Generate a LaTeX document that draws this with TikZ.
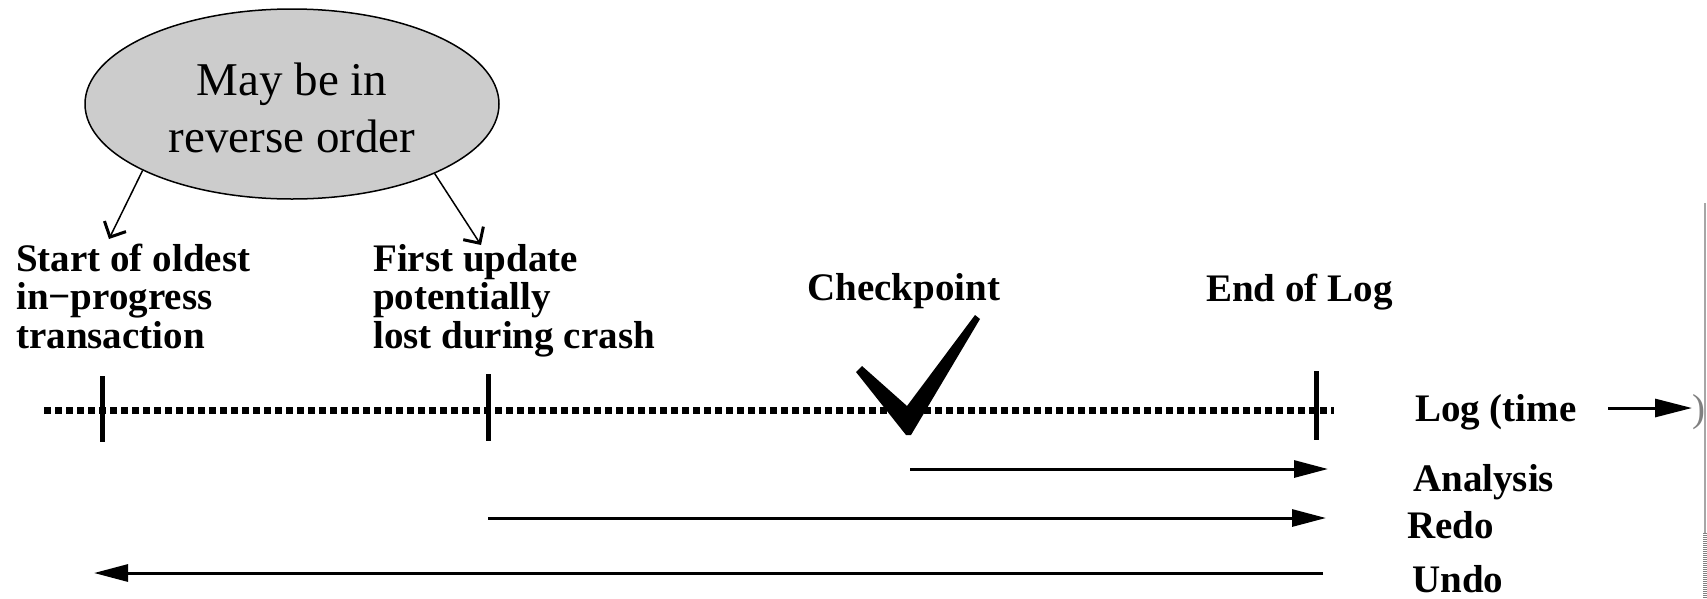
\documentclass[tikz,border=0pt]{standalone}
\usepackage{fontspec}
\setmainfont{Liberation Serif}
\usetikzlibrary{shapes.geometric,arrows.meta}
\tikzset{
  lbl/.style={font=\fontsize{39}{38.5}\selectfont\bfseries, inner sep=0pt, align=left},
  tickmark/.style={line width=5pt},
  logline/.style={line width=7pt, dash pattern=on 7pt off 4pt},
  pass/.style={line width=3pt, -{Triangle[length=34pt,width=17pt]}},
  ptr/.style={line width=1.5pt, -{Straight Barb[length=12pt,width=24pt,line width=3pt]}},
}
\begin{document}
\begin{tikzpicture}[x=1pt,y=-1pt]
\useasboundingbox (0,0) rectangle (1707,598);
% ellipse
\node[ellipse, draw, line width=1.5pt, fill={rgb,255:red,204;green,204;blue,204},
      minimum width=414pt, minimum height=190pt, inner sep=0pt] (ell) at (292,104) {};
\node[align=center, inner sep=0pt, font=\fontsize{47}{57}\selectfont] (elltext) at (292,108) {May be in\\reverse order};
\coordinate (t1) at (109,239);
\coordinate (t2) at (481,245);
\draw[ptr] (ell.204.8) -- (t1);
\draw[ptr] (ell.334.9) -- (t2);
% labels (anchor at baseline of last line)
\node[lbl, anchor=base west] (startlbl) at (16,348) {Start of oldest\\in−progress\\transaction};
\node[lbl, anchor=base west] (firstlbl) at (373,348) {First update\\potentially\\lost during crash};
\node[lbl, anchor=base west] (cplbl) at (807,300) {Checkpoint};
\node[lbl, anchor=base west] (eollbl) at (1206,301) {End of Log};
\node[lbl, anchor=base west] (loglbl) at (1415,421) {Log (time};
\node[lbl, anchor=base west] (anlbl) at (1413,491) {Analysis};
\node[lbl, anchor=base west] (redolbl) at (1407,538) {Redo};
\node[lbl, anchor=base west] (undolbl) at (1412,592) {Undo};
% log line
\coordinate (l0) at (44,410);
\coordinate (l1) at (1334,410);
\draw[logline] (l0) -- (l1);
\coordinate (k1a) at (102,376); \coordinate (k1b) at (102,442);
\coordinate (k2a) at (488,374); \coordinate (k2b) at (488,441);
\coordinate (k3a) at (1316,371); \coordinate (k3b) at (1316,440);
\draw[tickmark] (k1a) -- (k1b);
\draw[tickmark] (k2a) -- (k2b);
\draw[tickmark] (k3a) -- (k3b);
% checkmark
\fill (856,372) -- (862,366) -- (907,406) -- (975,315) -- (980,319) -- (911,435) -- (906,435) -- cycle;
% time arrow
\coordinate (ta0) at (1608,408);
\coordinate (ta1) at (1692,408);
\draw[line width=3pt, -{Triangle[length=37pt,width=18pt]}] (ta0) -- (ta1);
\node[font=\fontsize{39}{39}\selectfont, text=gray, inner sep=0pt, anchor=base east] (paren) at (1706,421) {)};
% right border line
\coordinate (r0) at (1705,203); \coordinate (r1) at (1705,533); \coordinate (r2) at (1705,598);
\draw[gray!70, line width=2pt] (r0) -- (r1);
\draw[gray, line width=4pt, dash pattern=on 1pt off 1pt] (r1) -- (r2);
% passes
\coordinate (an0) at (910,469); \coordinate (an1) at (1328,469);
\coordinate (re0) at (488,518); \coordinate (re1) at (1326,518);
\coordinate (un0) at (1323,573); \coordinate (un1) at (94,573);
\draw[pass] (an0) -- (an1);
\draw[pass] (re0) -- (re1);
\draw[pass] (un0) -- (un1);
\end{tikzpicture}
\end{document}
